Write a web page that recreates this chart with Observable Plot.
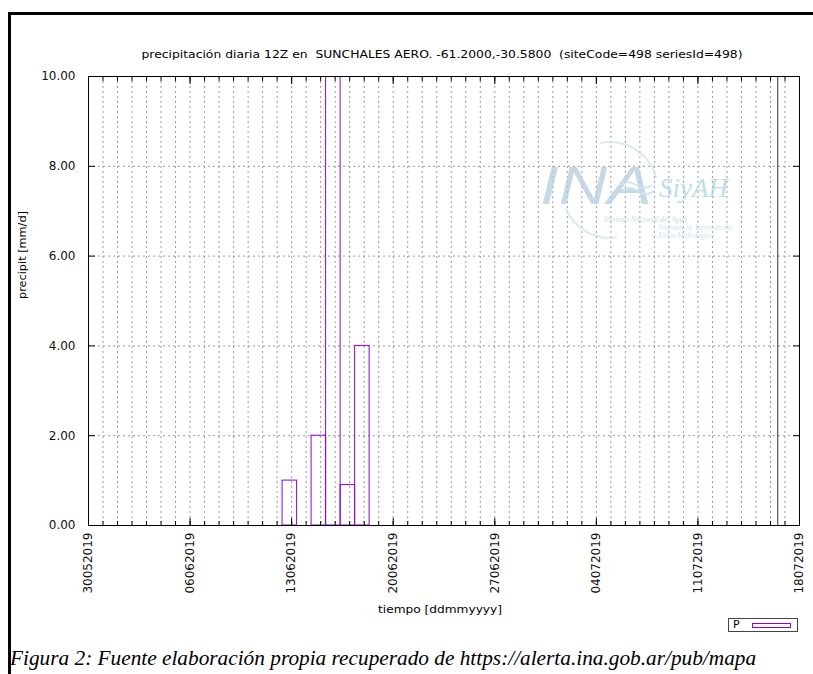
<!DOCTYPE html>
<html>
<head>
<meta charset="utf-8">
<script src="https://cdn.jsdelivr.net/npm/d3@7"></script>
<script src="https://cdn.jsdelivr.net/npm/@observablehq/plot@0.6"></script>
<style>
  body { margin: 0; background: #fff; }
  #wrap { position: relative; width: 813px; height: 674px; overflow: hidden; background: #fff; }
  #frame { position: absolute; left: 8px; top: 12px; width: 820px; height: 700px;
           border-top: 3px solid #000; border-left: 3px solid #000; }
  #chart { position: absolute; left: 0; top: 0; }
  #wm { position: absolute; left: 0; top: 0; pointer-events: none; }
  #legend { position: absolute; left: 728px; top: 618px; width: 70px; height: 14px;
            border: 1px solid #444; background: #fff; box-sizing: border-box;
            font: 11px "DejaVu Sans", sans-serif; }
  #legend .lab { position: absolute; left: 4px; top: -1px; }
  #legend .sw { position: absolute; left: 23px; top: 4px; width: 39px; height: 5px;
                border: 1.5px solid #9400d3; box-sizing: border-box; }
  #caption { position: absolute; left: 10px; top: 646px; white-space: nowrap;
             font: italic 21.3px "Liberation Serif", serif; color: #000; }
</style>
</head>
<body>
<div id="wrap">
  <div id="frame"></div>
  <div id="chart"></div>
  <svg id="wm" width="813" height="674"></svg>
  <div id="legend"><span class="lab">P</span><span class="sw"></span></div>
  <div id="caption">Figura 2: Fuente elaboración propia recuperado de https://alerta.ina.gob.ar/pub/mapa</div>
</div>
<script>
// ---- data ----
const chartTitle = "precipitación diaria 12Z en  SUNCHALES AERO. -61.2000,-30.5800  (siteCode=498 seriesId=498)";
const xLabel = "tiempo [ddmmyyyy]";
const yLabel = "precipit [mm/d]";
// bar start times (12Z observation day, shown in local time UTC-3 => 09:00)
const barStart = ["2019-06-12T09:00", "2019-06-14T09:00", "2019-06-15T09:00", "2019-06-16T09:00", "2019-06-17T09:00"];
// daily precipitation values [mm/d]; third value is off-scale (>10), estimated
const precip = [1.0, 2.0, 20.0, 0.9, 4.0];
// vertical marker line (current time)
const markerTimes = ["2019-07-16T12:00"];
// x tick labels (ddmmyyyy)
const xTickLabels = ["30052019", "06062019", "13062019", "20062019", "27062019", "04072019", "11072019", "18072019"];
const yTicks = [0, 2, 4, 6, 8, 10];
const yGrid = [2, 4, 6, 8];
const xDomain = ["2019-05-30T00:00", "2019-07-18T00:00"];

// ---- build ----
const utc = s => new Date(s + "Z");
const parseDMY = s => new Date(Date.UTC(+s.slice(4), +s.slice(2, 4) - 1, +s.slice(0, 2)));
const fmtDMY = d3.utcFormat("%d%m%Y");
const x0 = utc(xDomain[0]), x1 = utc(xDomain[1]);
const days = d3.utcDay.range(x0, d3.utcDay.offset(x1, 1));
const innerDays = days.filter(d => +d > +x0 && +d < +x1);
const majorDates = xTickLabels.map(parseDMY);
const bars = barStart.map((s, i) => ({start: utc(s), end: d3.utcDay.offset(utc(s), 1), value: precip[i]}));
const markers = markerTimes.map(utc);

const gridStyle = {stroke: "#9a9a9a", strokeDasharray: "2,3", strokeWidth: 1};

const plot = Plot.plot({
  width: 813,
  height: 640,
  marginLeft: 88,
  marginRight: 14,
  marginTop: 76,
  marginBottom: 115,
  style: {fontFamily: "DejaVu Sans, sans-serif", fontSize: "12px", background: "transparent", color: "#000"},
  x: {type: "utc", domain: [x0, x1]},
  y: {domain: [0, 10]},
  marks: [
    Plot.ruleX(innerDays, gridStyle),
    Plot.ruleY(yGrid, gridStyle),
    Plot.rectY(bars, {x1: "start", x2: "end", y: "value", fill: "none", stroke: "#9400d3", strokeWidth: 1, clip: true}),
    Plot.ruleX(markers, {stroke: "#333", strokeWidth: 1}),
    Plot.frame({stroke: "#000", strokeWidth: 1}),
    // inward minor (daily) and major (weekly) ticks, bottom and top
    Plot.axisX({anchor: "bottom", ticks: days, tickSize: -4, tickFormat: () => "", label: null, stroke: "#000"}),
    Plot.axisX({anchor: "top", ticks: days, tickSize: -4, tickFormat: () => "", label: null, stroke: "#000"}),
    Plot.axisX({anchor: "bottom", ticks: majorDates, tickSize: -7, tickFormat: () => "", label: null, stroke: "#000"}),
    Plot.axisX({anchor: "top", ticks: majorDates, tickSize: -7, tickFormat: () => "", label: null, stroke: "#000"}),
    // tick labels
    Plot.axisX({anchor: "bottom", ticks: majorDates, tickSize: 0, tickPadding: 7, tickRotate: -90,
                tickFormat: d => fmtDMY(d), label: null, fontSize: 12, fill: "#111"}),
    Plot.axisY({anchor: "left", ticks: yTicks, tickSize: 0, tickPadding: 13, tickFormat: d3.format(".2f"),
                label: null, fontSize: 12, fill: "#111"}),
    // y-axis inward ticks
    Plot.axisY({anchor: "left", ticks: yTicks, tickSize: -7, tickFormat: () => "", label: null}),
    Plot.axisY({anchor: "right", ticks: yTicks, tickSize: -7, tickFormat: () => "", label: null}),
    // title and axis titles
    Plot.text([chartTitle], {text: d => d, frameAnchor: "top", dy: -26, dx: -2, fontSize: 11, fill: "#000"}),
    Plot.text([xLabel], {text: d => d, frameAnchor: "bottom", dy: 87, dx: -4, fontSize: 11, fill: "#000"}),
    Plot.text([yLabel], {text: d => d, frameAnchor: "left", dx: -66, dy: -2, rotate: -90, fontSize: 11, fill: "#000"})
  ]
});
document.getElementById("chart").appendChild(plot);

// fit text widths to the reference
const svg = d3.select(plot);
svg.selectAll("text").each(function() {
  const t = this.textContent;
  if (t === chartTitle) d3.select(this).attr("textLength", 601).attr("lengthAdjust", "spacingAndGlyphs");
  if (t === xLabel) d3.select(this).attr("textLength", 124).attr("lengthAdjust", "spacingAndGlyphs");
  if (t === yLabel) d3.select(this).attr("textLength", 88).attr("lengthAdjust", "spacingAndGlyphs");
});

// ---- watermark (INA SiyAH logo, decoration) ----
const wm = d3.select("#wm").attr("opacity", 0.75);
const arc = d3.arc();
wm.append("path").attr("transform", "translate(610,190)")
  .attr("d", arc({innerRadius: 47, outerRadius: 49, startAngle: -0.2, endAngle: 1.3}))
  .attr("fill", "#cfe4ef");
wm.append("path").attr("transform", "translate(610,190)")
  .attr("d", arc({innerRadius: 47, outerRadius: 49, startAngle: 3.0, endAngle: 4.3}))
  .attr("fill", "#cfe4ef");
wm.append("text").attr("x", 540).attr("y", 204).text("INA")
  .attr("font-family", "Liberation Sans, sans-serif").attr("font-style", "italic")
  .attr("font-size", 54).attr("fill", "#b4cde0").attr("textLength", 112).attr("lengthAdjust", "spacingAndGlyphs");
wm.append("path").attr("d", "M620,185 q8,-6 16,0 t16,0 M622,191 q8,-6 16,0 t16,0")
  .attr("fill", "none").attr("stroke", "#c4dcea").attr("stroke-width", 2);
wm.append("text").attr("x", 659).attr("y", 197).text("SiyAH")
  .attr("font-family", "Liberation Serif, serif").attr("font-style", "italic")
  .attr("font-size", 27).attr("fill", "#a9d3e8");
wm.append("text").attr("x", 604).attr("y", 222).text("Instituto Nacional del Agua")
  .attr("font-family", "Liberation Serif, serif").attr("font-style", "italic")
  .attr("font-size", 7.5).attr("fill", "#b8cfdf");
wm.append("text").attr("x", 658).attr("y", 230).text("Sistemas de Información")
  .attr("font-family", "Liberation Serif, serif").attr("font-style", "italic")
  .attr("font-size", 7.5).attr("fill", "#bcdcec");
wm.append("text").attr("x", 652).attr("y", 238).text("y Alerta Hidrológico")
  .attr("font-family", "Liberation Serif, serif").attr("font-style", "italic")
  .attr("font-size", 7.5).attr("fill", "#bcdcec");
</script>
</body>
</html>
